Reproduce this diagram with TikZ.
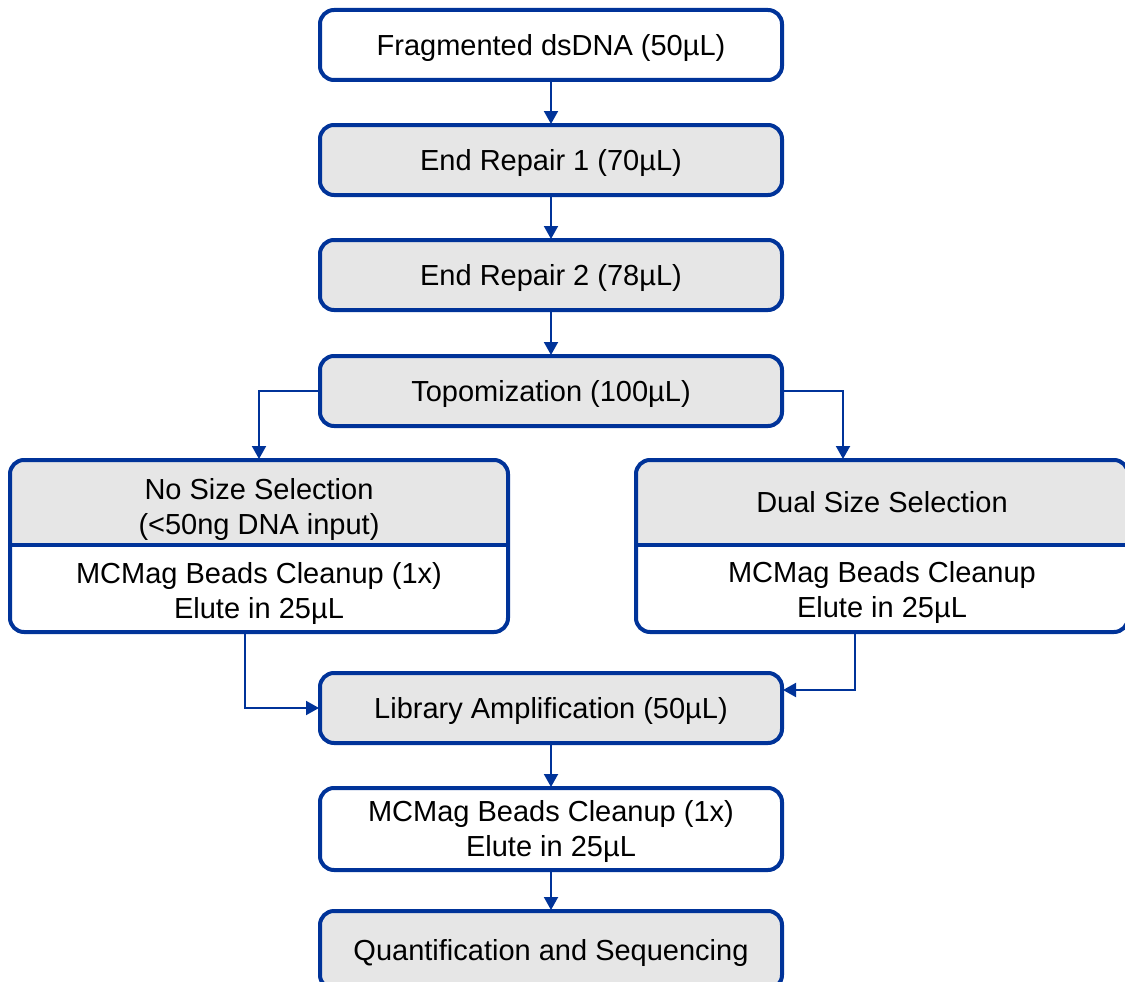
\documentclass[tikz,border=0pt]{standalone}
\usepackage{fontspec}
\setmainfont{Liberation Sans}
\usetikzlibrary{arrows.meta}
\definecolor{bblue}{HTML}{003399}
\definecolor{boxgray}{HTML}{E6E6E6}
\begin{document}
\begin{tikzpicture}[x=1pt,y=-1pt,
  txt/.style={align=center, font=\fontsize{29}{35}\selectfont, inner sep=0pt},
  frame/.style={draw=bblue, line width=4pt, rounded corners=14pt, outer sep=0pt, inner sep=0pt},
  onel/.style={text height=25pt, text depth=4pt},
  gbox/.style={frame, txt, onel, fill=boxgray, minimum width=462pt, minimum height=70pt},
  wbox/.style={frame, txt, onel, fill=white, minimum width=462pt, minimum height=70pt},
  arr/.style={draw=bblue, line width=2pt, -{Triangle[length=13pt,width=14pt]}, shorten >=1pt}]
\useasboundingbox (0,0) rectangle (1125,982);

\node[wbox] (n1) at (551,45) {Fragmented dsDNA (50µL)};
\node[gbox] (n2) at (551,160) {End Repair 1 (70µL)};
\node[gbox] (n3) at (551,275) {End Repair 2 (78µL)};
\node[gbox] (n4) at (551,391) {Topomization (100µL)};

% left split box
\path[fill=white, rounded corners=14pt] (10,460) rectangle (508,632);
\begin{scope}
  \clip[rounded corners=14pt] (10,460) rectangle (508,632);
  \fill[boxgray] (10,460) rectangle (508,545);
\end{scope}
\node[frame, minimum width=498pt, minimum height=172pt] (ns) at (259,546) {};
\draw[bblue, line width=4pt] (10,545) -- (508,545);
\node[txt] (nsa) at (259,509) {No Size Selection\\(<50ng DNA input)};
\node[txt] (nsb) at (259,593) {MCMag Beads Cleanup (1x)\\Elute in 25µL};

% right split box
\path[fill=white, rounded corners=14pt] (636,460) rectangle (1128,632);
\begin{scope}
  \clip[rounded corners=14pt] (636,460) rectangle (1128,632);
  \fill[boxgray] (636,460) rectangle (1128,545);
\end{scope}
\node[frame, minimum width=492pt, minimum height=172pt] (ds) at (882,546) {};
\draw[bblue, line width=4pt] (636,545) -- (1128,545);
\node[txt, onel] (dsa) at (882,502) {Dual Size Selection};
\node[txt] (dsb) at (882,592) {MCMag Beads Cleanup\\Elute in 25µL};

\node[gbox] (lib) at (551,708) {Library Amplification (50µL)};
\node[frame, fill=white, minimum width=462pt, minimum height=82pt] (mc) at (551,829) {};
\node[txt] (mct) at (551,831) {MCMag Beads Cleanup (1x)\\Elute in 25µL};
\node[gbox, minimum height=78pt] (qs) at (551,950) {Quantification and Sequencing};

\coordinate (dsin) at (843,460);
\coordinate (nsout) at (245,632);
\coordinate (dsout) at (855,632);
\coordinate (libin) at (782,690);

\draw[arr] (n1) -- (n2);
\draw[arr] (n2) -- (n3);
\draw[arr] (n3) -- (n4);
\draw[arr] (n4.west) -| (ns.north);
\draw[arr] (n4.east) -| (dsin);
\draw[arr] (nsout) |- (lib.west);
\draw[arr] (dsout) |- (libin);
\draw[arr] (lib) -- (mc);
\draw[arr] (mc) -- (qs);
\end{tikzpicture}
\end{document}
